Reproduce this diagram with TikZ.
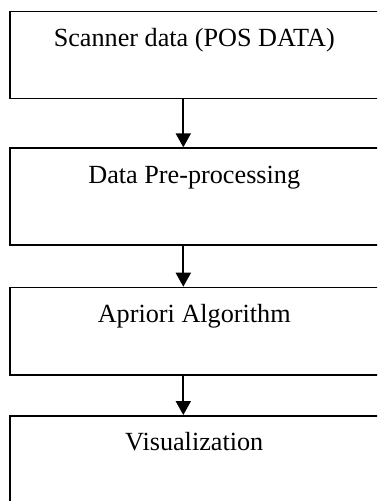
\documentclass[tikz,border=0pt]{standalone}
\usepackage{fontspec}
\setmainfont{Liberation Serif}
\usetikzlibrary{arrows.meta}

\begin{document}
\begin{tikzpicture}[
    x=1bp,
    y=-1bp,
    box/.style={rectangle, draw, line width=1.5bp, inner sep=0pt, anchor=north west,
        minimum width=369bp, text height=35bp, align=center, font=\fontsize{26.2bp}{30bp}\selectfont},
    arrow/.style={-{Triangle[width=15bp,length=14bp]}, line width=2bp}
]

% Frame
\useasboundingbox (0,0) rectangle (377,501);
\clip (0,0) rectangle (377,501);

% Process steps
\node[box, text depth=52bp] (scanner) at (9,10.7) {Scanner data (POS DATA)};
\node[box, text depth=62bp] (preproc) at (9,147.3) {Data Pre-processing};
\node[box, text depth=52.3bp] (apriori) at (9,286.7) {Apriori Algorithm};
\node[box, text depth=120bp] (visual) at (9,415) {Visualization};

% Flow
\draw[arrow] ([xshift=174.3bp]scanner.south west) -- ([xshift=174.3bp]preproc.north west);
\draw[arrow] ([xshift=174.3bp]preproc.south west) -- ([xshift=174.3bp]apriori.north west);
\draw[arrow] ([xshift=174.3bp]apriori.south west) -- ([xshift=174.3bp]visual.north west);

\end{tikzpicture}
\end{document}
